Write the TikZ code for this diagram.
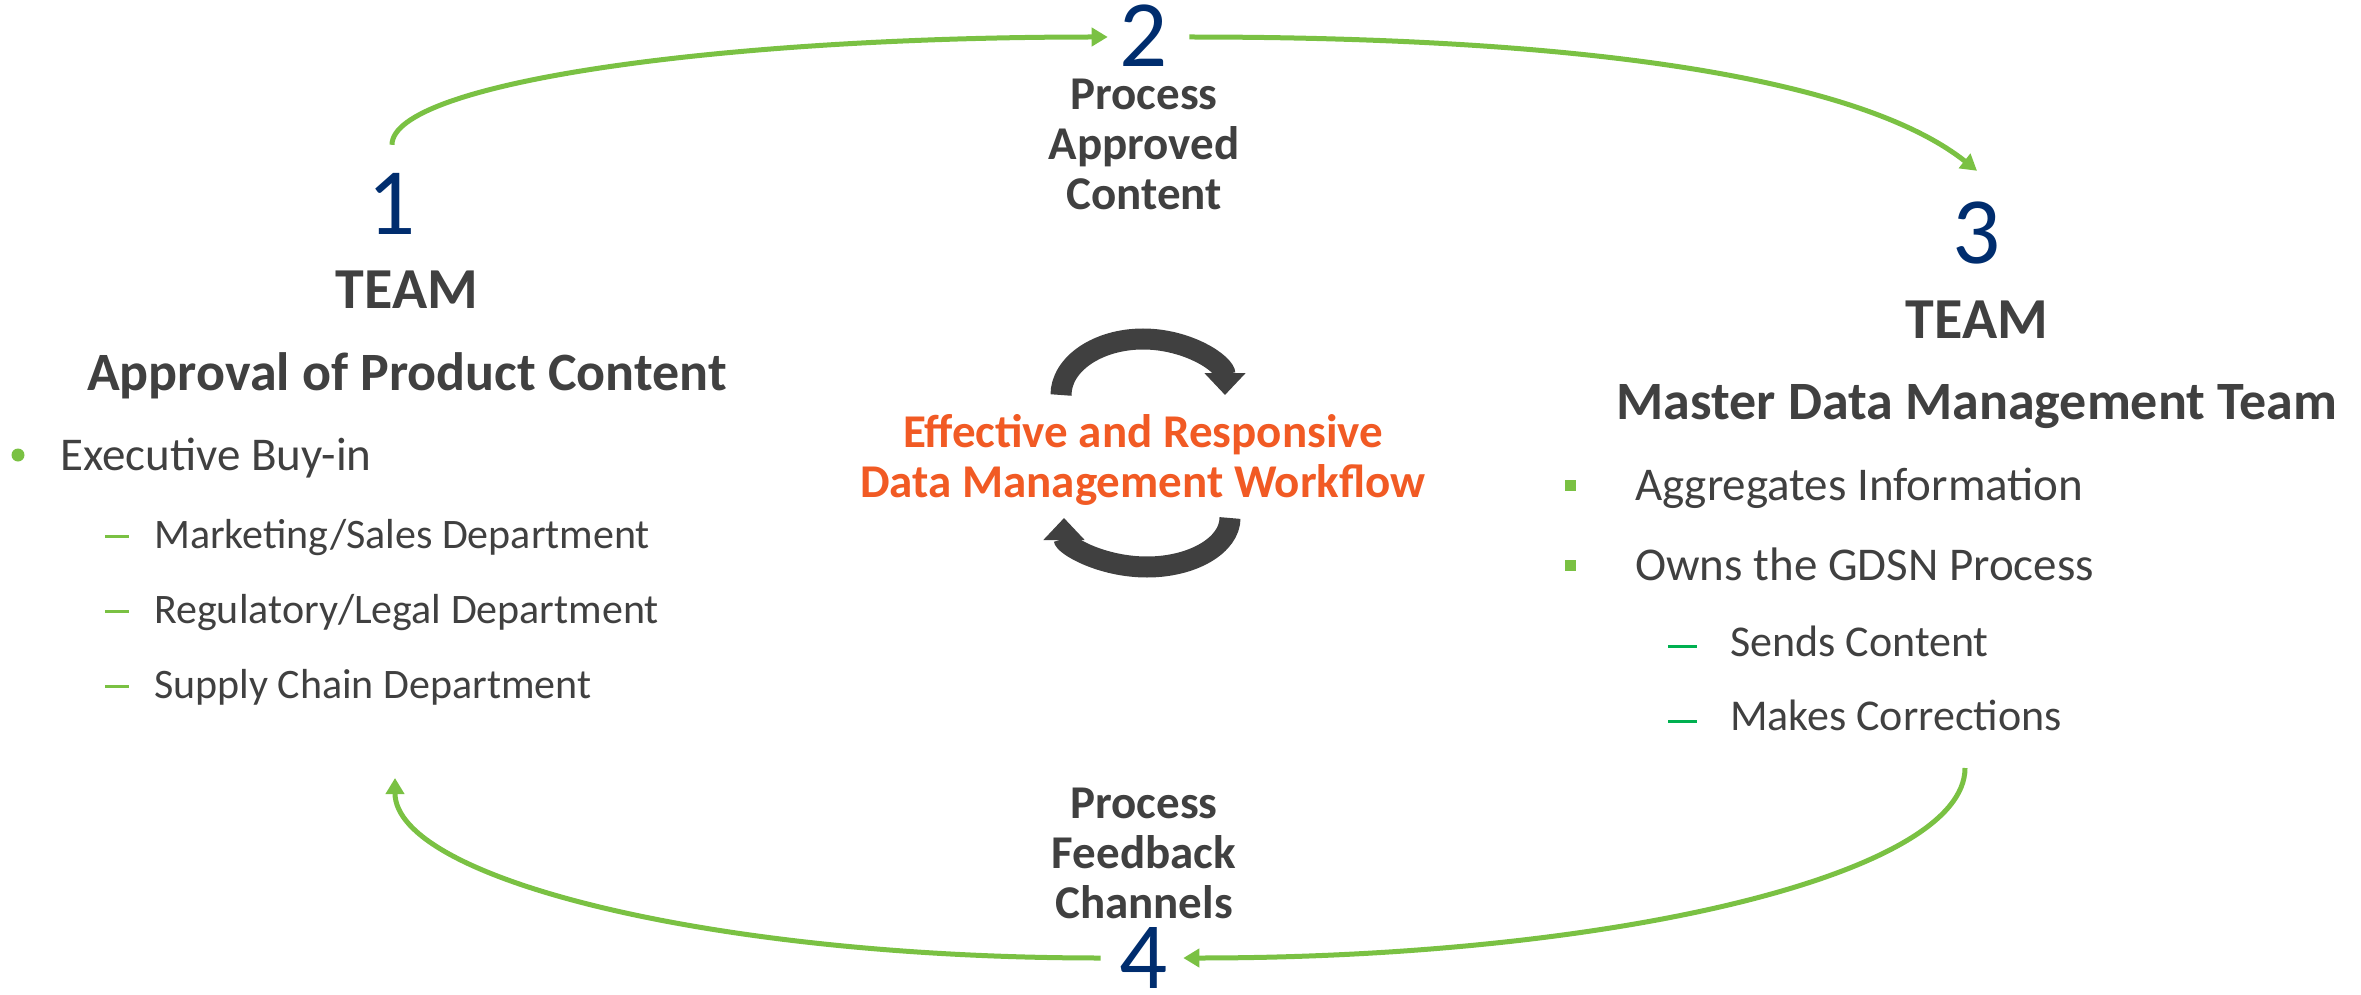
\documentclass[tikz,border=0pt]{standalone}
\usepackage{fontspec}
\setmainfont{Carlito}
\usepackage{tikz}
\usetikzlibrary{arrows.meta,calc}
\usepackage{xcolor}
\definecolor{arrowgreen}{RGB}{122,193,67}
\definecolor{dashgreen}{RGB}{0,176,80}
\definecolor{numblue}{RGB}{0,45,110}
\definecolor{txtgray}{RGB}{64,64,64}
\definecolor{wforange}{RGB}{241,90,36}
\newcommand{\fsz}[2]{\fontsize{#1}{#2}\selectfont}
\tikzstyle{num} = [font=\fsz{95}{95}, text=numblue, inner sep=0pt, text height=60pt, text depth=0pt]
\tikzstyle{team} = [font=\bfseries\fsz{58}{58}, text=txtgray, inner sep=0pt, text height=35pt, text depth=0pt]
\tikzstyle{title} = [font=\bfseries\fsz{54}{54}, text=txtgray, inner sep=0pt, text height=34pt, text depth=0pt]
\tikzstyle{item} = [anchor=west, font=\fsz{47}{47}, text=txtgray, inner sep=0pt, text height=30pt, text depth=0pt]
\tikzstyle{subitem} = [anchor=west, font=\fsz{42}{42}, text=txtgray, inner sep=0pt, text height=27pt, text depth=0pt]
\tikzstyle{steplabel} = [align=center, font=\bfseries\fsz{47}{50}, text=txtgray, inner sep=0pt]
\tikzstyle{workflow} = [align=center, font=\bfseries\fsz{47}{50}, text=wforange, inner sep=0pt]
\tikzstyle{dot} = [circle, fill=arrowgreen, inner sep=0pt, minimum size=13pt]
\tikzstyle{square} = [rectangle, fill=arrowgreen, inner sep=0pt, minimum size=11pt]
\tikzstyle{dashL} = [fill=arrowgreen, inner sep=0pt, minimum width=24pt, minimum height=3pt]
\tikzstyle{dashR} = [fill=dashgreen, inner sep=0pt, minimum width=29pt, minimum height=3pt]
\tikzstyle{line} = [draw=arrowgreen, line width=5pt, -{Triangle[width=18pt,length=16pt]}]
\tikzstyle{cycle} = [draw=txtgray, line width=21pt, -{Triangle[width=40pt,length=22pt]}]

\begin{document}
\begin{tikzpicture}[x=1pt,y=-1pt]
		\useasboundingbox (0,0) rectangle (2361,995);
		% Place nodes
		\node [num] (one) at (392,205) {1};
		\node [team, below of=one, node distance=86pt, xshift=15pt] (teamL) {TEAM};
		\node [title, below of=teamL, node distance=82pt] (approval) {Approval of Product Content};
		\node [dot] (dotA) at (18,455) {};
		\node [item] (buyin) at (60,455) {Executive Buy-in};
		\foreach \y in {536,611,686}
			\node [dashL] (dl\y) at (117,\y) {};
		\node [subitem] (sales) at (154,535) {Marketing/Sales Department};
		\node [subitem] (legal) at (154,610) {Regulatory/Legal Department};
		\node [subitem] (supply) at (154,685) {Supply Chain Department};
		
		\node [num] (two) at (1144,37) {2};
		\node [steplabel, below of=two, node distance=107pt] (approved) {Process\\Approved\\Content};
		
		\node [num] (three) at (1977,233) {3};
		\node [team, below of=three, node distance=88pt] (teamR) {TEAM};
		\node [title, below of=teamR, node distance=81pt] (master) {Master Data Management Team};
		\foreach \y in {485,565}
			\node [square] (sq\y) at (1570,\y) {};
		\node [item] (aggr) at (1635,485) {Aggregates Information};
		\node [item] (gdsn) at (1635,565) {Owns the GDSN Process};
		\foreach \y in {646,721}
			\node [dashR] (dr\y) at (1682,\y) {};
		\node [subitem, font=\fsz{44}{44}] (sends) at (1730,643) {Sends Content};
		\node [subitem, font=\fsz{44}{44}] (fixes) at (1730,717) {Makes Corrections};
		
		\node [num] (four) at (1144,958) {4};
		\node [steplabel, above of=four, node distance=105pt] (feedback) {Process\\Feedback\\Channels};
		
		\node [workflow] (wf) at (1143,460) {Effective and Responsive\\Data Management Workflow};
		\draw [cycle] (1061,395) arc [start angle=180, end angle=360, x radius=82, y radius=56];
		\draw [cycle] (1230,518) arc [start angle=0, end angle=180, x radius=83, y radius=49];
		
		\coordinate (out3) at (1965,768);
		\coordinate (in1) at (395,778);
		
		% Draw edges
		\path [line] ([yshift=30pt]one.north) .. controls +(0,-61) and +(-395,0) .. ([xshift=-12pt]two.west);
		\path [line] ([xshift=21pt]two.east) .. controls +(435,0) and +(-107,-85) .. ([yshift=32pt]three.north);
		\path [line] (out3) .. controls +(0,106) and +(431,0) .. ([xshift=15pt]four.east);
		\path [line] ([xshift=-19pt]four.west) .. controls +(-391,0) and +(0,100) .. (in1);
	\end{tikzpicture}
\end{document}
